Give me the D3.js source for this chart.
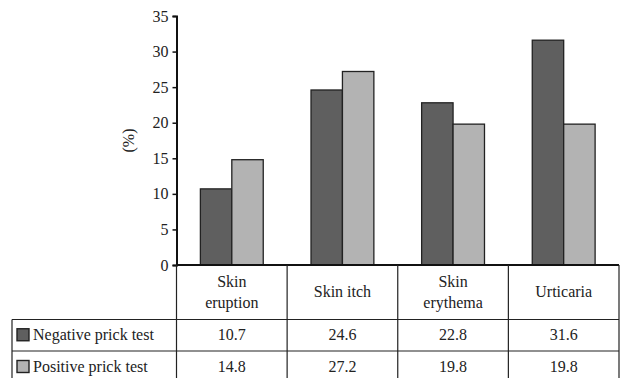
<!DOCTYPE html>
<html>
<head>
<meta charset="utf-8">
<script src="https://cdn.jsdelivr.net/npm/d3@7"></script>
<style>
  body { margin: 0; background: #fff; }
  svg text { font-family: "Liberation Serif", "DejaVu Serif", serif; fill: #222; }
</style>
</head>
<body>
<div id="chart"></div>
<script>
// Data
const categories = ["Skin eruption", "Skin itch", "Skin erythema", "Urticaria"];
const categoryLines = [["Skin", "eruption"], ["Skin itch"], ["Skin", "erythema"], ["Urticaria"]];
const seriesNames = ["Negative prick test", "Positive prick test"];
const negativeValues = [10.7, 24.6, 22.8, 31.6];
const positiveValues = [14.8, 27.2, 19.8, 19.8];
const yTicks = [0, 5, 10, 15, 20, 25, 30, 35];

const seriesValues = [negativeValues, positiveValues];
const colors = ["#5f5f5f", "#b3b3b3"];
const serif = "'Liberation Serif', 'DejaVu Serif', serif";
const fontSize = 16;

const width = 625;
const height = 378;
const margin = { top: 16, left: 176.5, right: 6, bottom: 113 };
const tableLeft = 12;
const rowBottoms = [319.5, 351, 383];

const svg = d3.select("#chart")
  .append("svg")
  .attr("width", width)
  .attr("height", height)
  .style("font-family", serif);

// Scales
const x0 = d3.scaleBand()
  .domain(categories)
  .range([margin.left, width - margin.right])
  .padding(0);

const x1 = d3.scaleBand()
  .domain(seriesNames)
  .range([0, x0.bandwidth()])
  .paddingInner(0)
  .paddingOuter(0.76);

const y = d3.scaleLinear()
  .domain([0, 35])
  .range([height - margin.bottom, margin.top]);

// Bars
categories.forEach((cat, i) => {
  const g = svg.append("g").attr("transform", `translate(${x0(cat)},0)`);
  seriesNames.forEach((s, j) => {
    const v = seriesValues[j][i];
    g.append("rect")
      .attr("x", x1(s))
      .attr("y", y(v))
      .attr("width", x1.bandwidth())
      .attr("height", y(0) - y(v))
      .attr("fill", colors[j])
      .attr("stroke", "#222")
      .attr("stroke-width", 1.3);
  });
});

// Y axis
const yAxis = svg.append("g")
  .attr("transform", `translate(${margin.left},0)`)
  .call(d3.axisLeft(y).tickValues(yTicks).tickSize(4).tickSizeOuter(4));
yAxis.attr("font-family", serif).attr("font-size", fontSize);
yAxis.select(".domain").attr("stroke", "#111").attr("stroke-width", 2);
yAxis.selectAll(".tick line").attr("stroke", "#111").attr("stroke-width", 1.5);
yAxis.selectAll(".tick text")
  .attr("x", -8)
  .attr("fill", "#222");

// Y label
svg.append("text")
  .attr("transform", `translate(134, ${y(17.5)}) rotate(-90)`)
  .attr("text-anchor", "middle")
  .style("font-size", fontSize + "px")
  .text("(%)");

// Table grid
const tableRight = width - margin.right;
const grid = svg.append("g").attr("stroke", "#222").attr("stroke-width", 1.2);

// horizontal lines
grid.append("line")
  .attr("x1", margin.left).attr("x2", tableRight)
  .attr("y1", y(0)).attr("y2", y(0))
  .attr("stroke", "#111").attr("stroke-width", 2);
[rowBottoms[0], rowBottoms[1]].forEach(yy => {
  grid.append("line")
    .attr("x1", tableLeft).attr("x2", tableRight)
    .attr("y1", yy).attr("y2", yy);
});

// vertical lines
categories.forEach(cat => {
  grid.append("line")
    .attr("x1", x0(cat)).attr("x2", x0(cat))
    .attr("y1", y(0)).attr("y2", height + 5);
});
grid.append("line")
  .attr("x1", tableRight).attr("x2", tableRight)
  .attr("y1", y(0)).attr("y2", height + 5);
grid.append("line")
  .attr("x1", tableLeft).attr("x2", tableLeft)
  .attr("y1", rowBottoms[0]).attr("y2", height + 5);

// Category header text
const headerMid = (y(0) + rowBottoms[0]) / 2;
categories.forEach((cat, i) => {
  const lines = categoryLines[i];
  const t = svg.append("text")
    .attr("text-anchor", "middle")
    .style("font-size", fontSize + "px");
  lines.forEach((ln, k) => {
    t.append("tspan")
      .attr("x", x0(cat) + x0.bandwidth() / 2)
      .attr("y", headerMid + 5 + (k - (lines.length - 1) / 2) * 21)
      .text(ln);
  });
});

// Data rows
seriesNames.forEach((s, j) => {
  const top = rowBottoms[j];
  const mid = (top + rowBottoms[j + 1]) / 2;
  svg.append("rect")
    .attr("x", tableLeft + 5)
    .attr("y", mid - 6.5)
    .attr("width", 12)
    .attr("height", 12)
    .attr("fill", colors[j])
    .attr("stroke", "#222")
    .attr("stroke-width", 1.4);
  svg.append("text")
    .attr("x", tableLeft + 21)
    .attr("y", mid + 4.5)
    .style("font-size", fontSize + "px")
    .text(s);
  categories.forEach((cat, i) => {
    svg.append("text")
      .attr("x", x0(cat) + x0.bandwidth() / 2)
      .attr("y", mid + 4.5)
      .attr("text-anchor", "middle")
      .style("font-size", fontSize + "px")
      .text(seriesValues[j][i].toFixed(1));
  });
});
</script>
</body>
</html>
